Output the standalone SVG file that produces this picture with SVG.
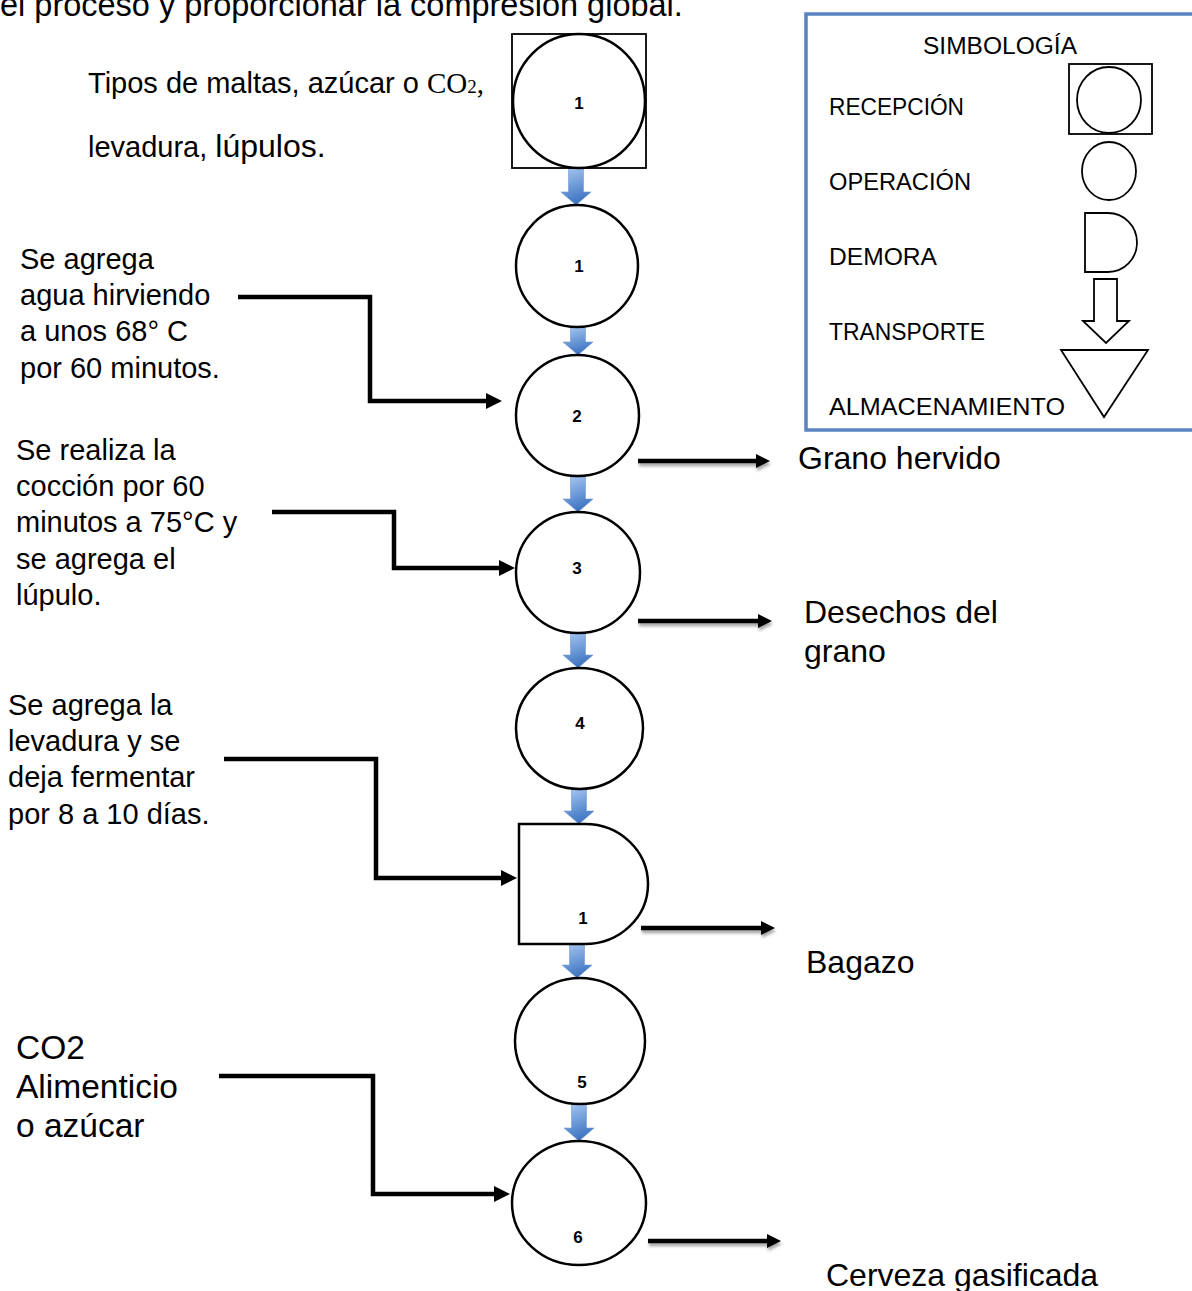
<svg xmlns="http://www.w3.org/2000/svg" width="1192" height="1291" viewBox="0 0 1192 1291">
<style>
.t{font-family:"Liberation Sans",Arial,sans-serif;fill:#000}
.l{font-size:29px}
.r{font-size:32px}
.n{font-family:"Liberation Sans",Arial,sans-serif;font-weight:bold;font-size:17px;text-anchor:middle}
.lg{font-family:"Liberation Sans",Arial,sans-serif;font-size:23px}
.sh{fill:#fff;stroke:#000;stroke-width:2.5}
.ls{fill:#fff;stroke:#000;stroke-width:1.8}
.ba{fill:url(#bg);stroke:#6f9ad6;stroke-width:0.6}
.in{fill:none;stroke:#000;stroke-width:4.5;marker-end:url(#ah)}
.out{fill:none;stroke:#000;stroke-width:4.5;marker-end:url(#ah2)}
</style>
<defs>
<linearGradient id="bg" x1="0" y1="0" x2="0.3" y2="1">
<stop offset="0" stop-color="#a9c9f3"/>
<stop offset="1" stop-color="#3f75c2"/>
</linearGradient>
<marker id="ah" markerUnits="userSpaceOnUse" markerWidth="17" markerHeight="16" refX="2" refY="8" orient="auto">
<path d="M0,0 L16,8 L0,16 Z" fill="#000"/>
</marker>
<marker id="ah2" markerUnits="userSpaceOnUse" markerWidth="15" markerHeight="14" refX="2" refY="7" orient="auto">
<path d="M0,0 L14,7 L0,14 Z" fill="#000"/>
</marker>
<filter id="ds" filterUnits="userSpaceOnUse" x="0" y="0" width="1192" height="1291">
<feDropShadow dx="1" dy="3" stdDeviation="1.5" flood-color="#000" flood-opacity="0.35"/>
</filter>
</defs>

<text class="t" x="0" y="16" font-size="32.5">el proceso y proporcionar la compresión global.</text>

<g id="legend">
<rect x="806" y="14" width="392" height="416" fill="#fff" stroke="#5a84c0" stroke-width="3.5"/>
<text class="lg" x="1000" y="54" text-anchor="middle" textLength="154" lengthAdjust="spacingAndGlyphs">SIMBOLOGÍA</text>
<text class="lg" x="829" y="115" textLength="135" lengthAdjust="spacingAndGlyphs">RECEPCIÓN</text>
<text class="lg" x="829" y="190" textLength="142" lengthAdjust="spacingAndGlyphs">OPERACIÓN</text>
<text class="lg" x="829" y="265" textLength="108" lengthAdjust="spacingAndGlyphs">DEMORA</text>
<text class="lg" x="829" y="340" textLength="156" lengthAdjust="spacingAndGlyphs">TRANSPORTE</text>
<text class="lg" x="829" y="415" textLength="236" lengthAdjust="spacingAndGlyphs">ALMACENAMIENTO</text>
<rect class="ls" x="1069" y="64" width="83" height="70"/>
<ellipse class="ls" cx="1109" cy="100" rx="32" ry="33"/>
<ellipse class="ls" cx="1109" cy="171" rx="27" ry="29"/>
<path class="ls" d="M1085,213 H1108 A29,29.5 0 0 1 1108,272 H1085 Z"/>
<path class="ls" d="M1094,279 H1117 V321 H1129 L1106,343 L1083,321 H1094 Z"/>
<path class="ls" d="M1061,350 H1148 L1104,417 Z"/>
</g>

<g id="connectors">
<path class="ba" d="M568.5,168 H583.5 V192 H591 L576,205 L561,192 H568.5 Z"/>
<path class="ba" d="M570.5,327 H585.5 V342 H593 L578,355 L563,342 H570.5 Z"/>
<path class="ba" d="M570.5,477 H585.5 V499 H593 L578,512 L563,499 H570.5 Z"/>
<path class="ba" d="M570.5,633 H585.5 V655 H593 L578,668 L563,655 H570.5 Z"/>
<path class="ba" d="M571.5,789 H586.5 V811 H594 L579,824 L564,811 H571.5 Z"/>
<path class="ba" d="M569.5,944 H584.5 V965 H592 L577,978 L562,965 H569.5 Z"/>
<path class="ba" d="M571.5,1104 H586.5 V1128 H594 L579,1141 L564,1128 H571.5 Z"/>
<path class="in" d="M238,297 H370 V401 H488"/>
<path class="in" d="M272,512 H394 V568 H501"/>
<path class="in" d="M224,759 H376 V878 H503"/>
<path class="in" d="M219,1076 H373 V1194 H496"/>
<g filter="url(#ds)">
<path class="out" d="M638,461 H758"/>
<path class="out" d="M638,621 H760"/>
<path class="out" d="M641,928 H763"/>
<path class="out" d="M648,1241 H769"/>
</g>
</g>

<g id="n-recepcion">
<rect class="ls" x="512" y="34" width="134" height="134"/>
<ellipse class="sh" cx="579" cy="101" rx="66" ry="67"/>
<text class="n" x="579" y="109">1</text>
</g>
<g id="n-op1">
<ellipse class="sh" cx="577" cy="266" rx="61" ry="61"/>
<text class="n" x="579" y="272">1</text>
</g>
<g id="n-op2">
<ellipse class="sh" cx="577.5" cy="415.5" rx="61.5" ry="60.5"/>
<text class="n" x="577" y="422">2</text>
</g>
<g id="n-op3">
<ellipse class="sh" cx="578" cy="572.5" rx="62" ry="60.5"/>
<text class="n" x="577" y="574">3</text>
</g>
<g id="n-op4">
<ellipse class="sh" cx="579.5" cy="728.5" rx="63.5" ry="60.5"/>
<text class="n" x="580" y="729">4</text>
</g>
<g id="n-demora">
<path class="sh" d="M519,824 H585 A63,60 0 0 1 585,944 H519 Z"/>
<text class="n" x="583" y="924">1</text>
</g>
<g id="n-op5">
<ellipse class="sh" cx="580" cy="1041" rx="65" ry="63"/>
<text class="n" x="582" y="1088">5</text>
</g>
<g id="n-op6">
<ellipse class="sh" cx="579" cy="1203" rx="67" ry="62"/>
<text class="n" x="578" y="1243">6</text>
</g>

<g id="labels">
<text class="t l" x="88" y="93">Tipos de maltas, azúcar o <tspan font-family="'Liberation Serif','DejaVu Serif',serif">CO<tspan font-size="19">2</tspan>,</tspan></text>
<text class="t l" x="88" y="157">levadura, <tspan font-size="32">lúpulos.</tspan></text>
<text class="t l" x="20" y="269">Se agrega</text>
<text class="t l" x="20" y="305">agua hirviendo</text>
<text class="t l" x="20" y="341">a unos 68° C</text>
<text class="t l" x="20" y="378">por 60 minutos.</text>
<text class="t l" x="16" y="460">Se realiza la</text>
<text class="t l" x="16" y="496">cocción por 60</text>
<text class="t l" x="16" y="532">minutos a 75°C y</text>
<text class="t l" x="16" y="569">se agrega el</text>
<text class="t l" x="16" y="605">lúpulo.</text>
<text class="t l" x="8" y="715">Se agrega la</text>
<text class="t l" x="8" y="751">levadura y se</text>
<text class="t l" x="8" y="787">deja fermentar</text>
<text class="t l" x="8" y="824">por 8 a 10 días.</text>
<text class="t" font-size="33.5" x="16" y="1059">CO2</text>
<text class="t" font-size="33.5" x="16" y="1098">Alimenticio</text>
<text class="t" font-size="33.5" x="16" y="1137">o azúcar</text>
<text class="t r" x="798" y="469">Grano hervido</text>
<text class="t r" x="804" y="623">Desechos del</text>
<text class="t r" x="804" y="662">grano</text>
<text class="t r" x="806" y="973">Bagazo</text>
<text class="t r" x="826" y="1286">Cerveza gasificada</text>
</g>
</svg>
